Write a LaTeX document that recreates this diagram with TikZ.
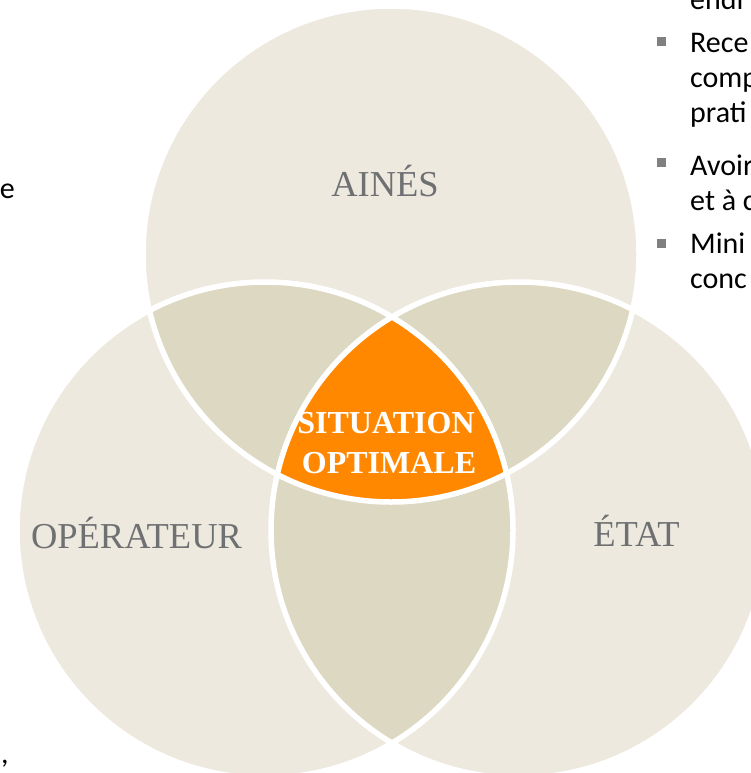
\documentclass[tikz,border=0pt]{standalone}
\usepackage{fontspec}
\setmainfont{Liberation Serif}
\newfontfamily\slidefont{Carlito}
\usepackage{tikz}
\definecolor{sand}{RGB}{237,233,222}
\definecolor{sanddark}{RGB}{221,216,194}
\definecolor{optimal}{RGB}{255,136,0}
\definecolor{labelgray}{RGB}{110,112,114}
\definecolor{bulletgray}{RGB}{128,128,128}
\tikzstyle{zone} = [fill=sand]
\tikzstyle{overlap} = [fill=sanddark]
\tikzstyle{border} = [draw=white, line width=5.5pt]
\tikzstyle{actor} = [anchor=base, inner sep=0pt, text=labelgray, font=\fontsize{36.5}{42}\selectfont]
\tikzstyle{optimum} = [anchor=base, inner sep=0pt, text=white, font=\bfseries\fontsize{32}{40}\selectfont]
\tikzstyle{slide} = [anchor=base west, inner sep=0pt, text=black, font=\slidefont\fontsize{30}{34}\selectfont]
\tikzstyle{bullet} = [rectangle, fill=bulletgray, minimum size=9pt, inner sep=0pt]

\begin{document}
\begin{tikzpicture}[x=1pt, y=-1pt]
\useasboundingbox (0,0) rectangle (751,773);
\coordinate (ainesc) at (391,254);
\coordinate (operateurc) at (265,530);
\coordinate (etatc) at (519,530);

\fill [zone] (ainesc) circle [radius=248pt];
\fill [zone] (operateurc) circle [radius=248pt];
\fill [zone] (etatc) circle [radius=248pt];

\begin{scope}
\clip (ainesc) circle [radius=248pt];
\fill [overlap] (operateurc) circle [radius=248pt];
\fill [overlap] (etatc) circle [radius=248pt];
\end{scope}
\begin{scope}
\clip (operateurc) circle [radius=248pt];
\fill [overlap] (etatc) circle [radius=248pt];
\end{scope}
\begin{scope}
\clip (ainesc) circle [radius=248pt];
\clip (operateurc) circle [radius=248pt];
\fill [optimal] (etatc) circle [radius=248pt];
\end{scope}

\draw [border] (ainesc) circle [radius=248pt];
\draw [border] (operateurc) circle [radius=248pt];
\draw [border] (etatc) circle [radius=248pt];

\node (aines) [actor] at (385,196) {AINÉS};
\node (operateur) [actor] at (136.5,548) {OPÉRATEUR};
\node (etat) [actor] at (636.5,546) {ÉTAT};
\node (situation) [optimum] at (386,433) {SITUATION};
\node (optimale) [optimum] at (389,473) {OPTIMALE};

\node (line1) [slide] at (690,10) {endi};
\node (bullet1) [bullet] at (661.5,42) {};
\node (line2) [slide] at (690,53) {Rece};
\node (line3) [slide] at (690,88) {comp};
\node (line4) [slide] at (690,122) {prati};
\node (bullet2) [bullet] at (661.5,162) {};
\node (line5) [slide] at (690,175) {Avoir};
\node (line6) [slide] at (690,210) {et à c};
\node (bullet3) [bullet] at (661.5,243) {};
\node (line7) [slide] at (690,253) {Mini};
\node (line8) [slide] at (690,288) {conc};

\node (lefte) [slide, anchor=base east] at (15,198) {e};
\node (leftcomma) [slide] at (1,763) {,};
\end{tikzpicture}
\end{document}
